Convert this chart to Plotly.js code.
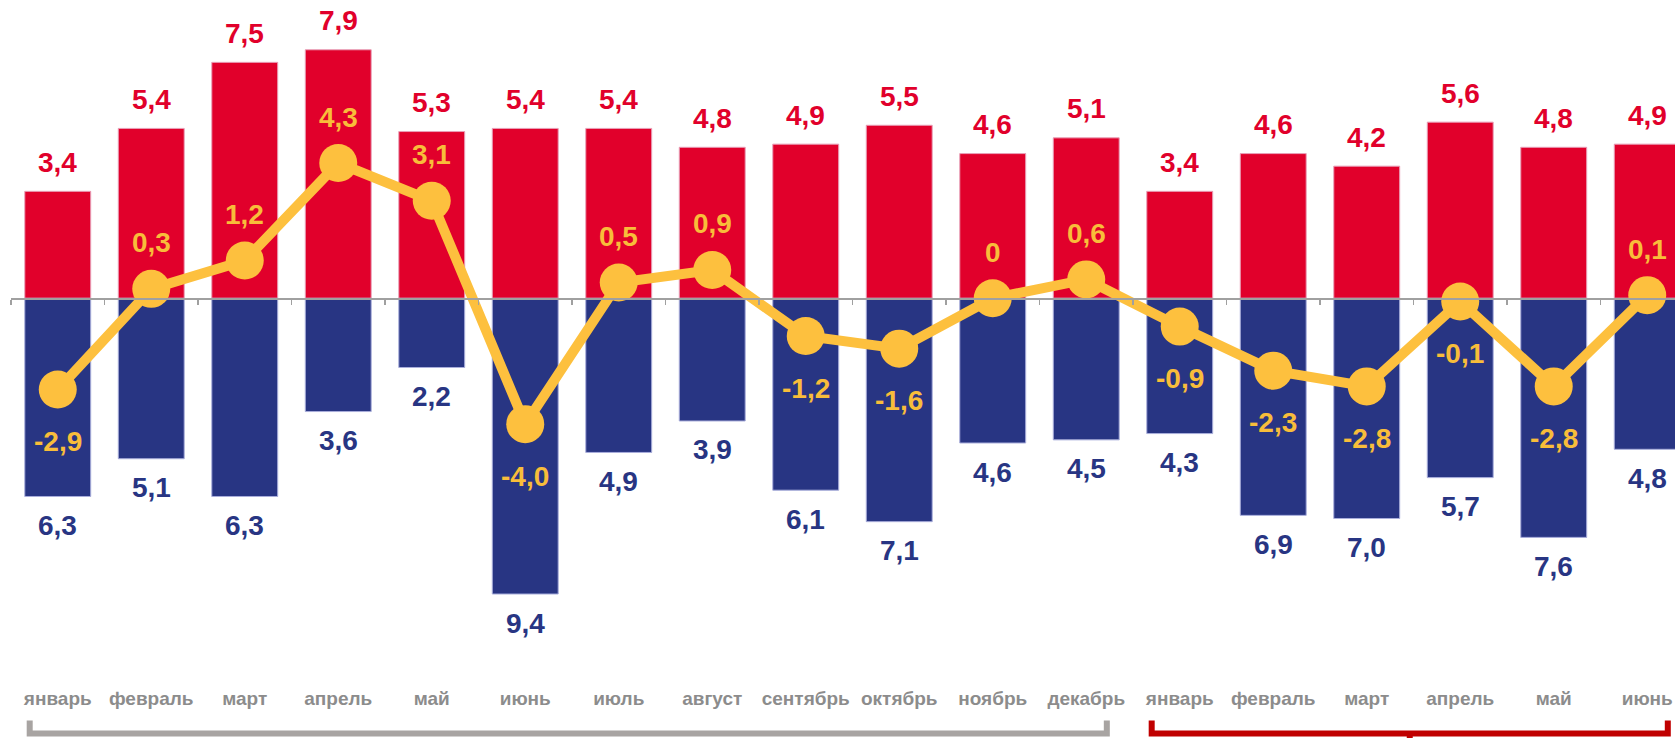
<!DOCTYPE html>
<html>
<head>
<meta charset="utf-8">
<script src="https://cdn.plot.ly/plotly-3.0.1.min.js"></script>
<style>html,body{margin:0;padding:0;background:#fff;}#chart{width:1675px;height:738px;}</style>
</head>
<body>
<div id="chart"></div>
<script>
// ---- data ----
const months = ["январь","февраль","март","апрель","май","июнь","июль","август","сентябрь","октябрь","ноябрь","декабрь","январь","февраль","март","апрель","май","июнь"];
const inflow  = [3.4, 5.4, 7.5, 7.9, 5.3, 5.4, 5.4, 4.8, 4.9, 5.5, 4.6, 5.1, 3.4, 4.6, 4.2, 5.6, 4.8, 4.9];
const outflow = [6.3, 5.1, 6.3, 3.6, 2.2, 9.4, 4.9, 3.9, 6.1, 7.1, 4.6, 4.5, 4.3, 6.9, 7.0, 5.7, 7.6, 4.8];
const balance = [-2.9, 0.3, 1.2, 4.3, 3.1, -4.0, 0.5, 0.9, -1.2, -1.6, 0, 0.6, -0.9, -2.3, -2.8, -0.1, -2.8, 0.1];
const groups = [
  {from: 0, to: 11, color: "#A8A4A2", mid: false},
  {from: 12, to: 17, color: "#C00000", mid: true}
];

// ---- style ----
const RED = "#E1002B", BLUE = "#283583", YELLOW = "#FDC03E", YELLOW_TXT = "#F8BD3A";
const NUMFONT = "Liberation Sans, Arial, sans-serif";
const xIdx = months.map((_, i) => i);
const fmt = v => v === 0 ? "0" : v.toFixed(1).replace(".", ",");

const yRange = [-12.006, 9.482];
const xRange = [-0.5, 17.297];

const traces = [
  {type: "bar", x: xIdx, y: inflow, marker: {color: RED, line: {color: "#E8A0B8", width: 1}}, hoverinfo: "skip"},
  {type: "bar", x: xIdx, y: outflow.map(v => -v), marker: {color: BLUE, line: {color: "#A9AEDB", width: 1}}, hoverinfo: "skip"},
  {type: "scatter", mode: "lines+markers", x: xIdx, y: balance,
   line: {color: YELLOW, width: 10}, marker: {color: YELLOW, size: 38}, hoverinfo: "skip"},
  {type: "scatter", mode: "markers", x: [0], y: [0], xaxis: "x2", yaxis: "y",
   marker: {opacity: 0}, hoverinfo: "skip"}
];

const annotations = [];
xIdx.forEach(i => {
  annotations.push({x: i, y: inflow[i], xref: "x", yref: "y", text: fmt(inflow[i]), showarrow: false,
    yanchor: "middle", yshift: 29, font: {family: NUMFONT, size: 28, color: RED, weight: 700}});
  annotations.push({x: i, y: -outflow[i], xref: "x", yref: "y", text: fmt(outflow[i]), showarrow: false,
    yanchor: "middle", yshift: -29, font: {family: NUMFONT, size: 28, color: BLUE, weight: 700}});
  annotations.push({x: i, y: balance[i], xref: "x", yref: "y", text: fmt(balance[i]), showarrow: false,
    yanchor: "middle", yshift: balance[i] >= 0 ? 46 : -52, font: {family: NUMFONT, size: 28, color: YELLOW_TXT, weight: 700}});
});

// group brackets under the month labels
const shapes = [];
groups.forEach(g => {
  const x0 = g.from - 0.3, x1 = g.to + 0.22;
  const yTop = -0.066, yBot = -0.085;
  shapes.push({type: "path", xref: "x", yref: "paper",
    path: `M ${x0} ${yTop} L ${x0} ${yBot} L ${x1} ${yBot} L ${x1} ${yTop}`,
    line: {color: g.color, width: 6}});
  if (g.mid) {
    const xm = (g.from + g.to) / 2 - 0.04;
    shapes.push({type: "line", xref: "x", yref: "paper", x0: xm, x1: xm, y0: yBot, y1: -0.12,
      line: {color: g.color, width: 6}});
  }
});

const layout = {
  width: 1675, height: 738,
  margin: {l: 11, r: 0, t: 0, b: 62},
  paper_bgcolor: "#fff", plot_bgcolor: "#fff",
  showlegend: false,
  barmode: "relative", bargap: 0.295,
  xaxis: {range: xRange, tickmode: "array", tickvals: xIdx, ticktext: months, tickangle: 0,
    ticklabeloverflow: "allow",
    showgrid: false, zeroline: false, showline: false, ticks: "", ticklabelstandoff: 9,
    tickfont: {family: NUMFONT, size: 19, color: "#8C8C8C", weight: 700},
    fixedrange: true},
  xaxis2: {overlaying: "x", anchor: "free", position: (0 - yRange[0]) / (yRange[1] - yRange[0]),
    range: xRange, showline: true, linecolor: "#A0A0A0", linewidth: 1.5,
    ticks: "outside", ticklen: 5, tickwidth: 1.5, tickcolor: "#A0A0A0",
    tickmode: "array", tickvals: xIdx.concat([months.length]).map(i => i - 0.5),
    showticklabels: false, showgrid: false, zeroline: false, fixedrange: true},
  yaxis: {range: yRange, visible: false, showgrid: false, zeroline: false, fixedrange: true},
  annotations: annotations,
  shapes: shapes
};

Plotly.newPlot("chart", traces, layout, {displayModeBar: false, staticPlot: true});
</script>
</body>
</html>
